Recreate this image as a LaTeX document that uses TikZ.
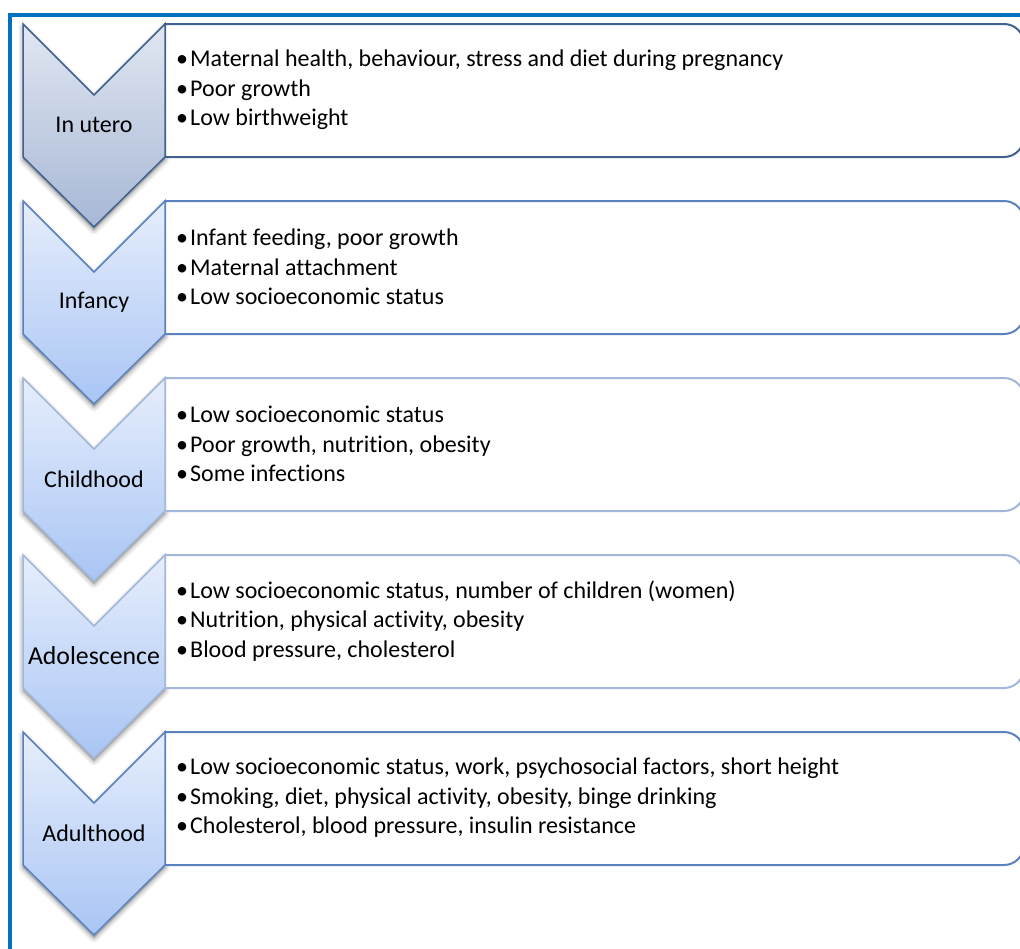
\documentclass[tikz,border=0pt]{standalone}
\usepackage{fontspec}
\setmainfont[Ligatures=NoCommon]{Carlito}
\definecolor{framecol}{HTML}{0070C0}
\definecolor{darkedge}{HTML}{41628F}
\definecolor{midedge}{HTML}{5B82BE}
\definecolor{lightedge}{HTML}{A3B7DA}
\definecolor{greytop}{HTML}{E1E7F2}
\definecolor{greybot}{HTML}{A7B7D5}
\definecolor{bluetop}{HTML}{E6EEFC}
\definecolor{bluebot}{HTML}{A9C5F4}
\tikzset{
  chevshape/.style={line width=1.5pt, line join=miter},
  boxshape/.style={line width=2pt, fill=white},
  stagelabel/.style={font=\fontsize{24}{28}\selectfont, inner sep=0pt},
  bulletlist/.style={font=\fontsize{24}{29.5}\selectfont, align=left, anchor=west, inner sep=0pt},
}
% chevron outline with its top at #1
\newcommand{\chevpath}[1]{(23,#1) -- (94,#1+71) -- (165,#1) -- (165,#1+133) -- (94,#1+203) -- (23,#1+133) -- cycle}
% list box with square left corners and rounded right corners, top at #1
\newcommand{\listbox}[1]{(165,#1) -- (1004,#1) .. controls (1015,#1) and (1024,#1+9) .. (1024,#1+20)
  -- (1024,#1+113) .. controls (1024,#1+124) and (1015,#1+133) .. (1004,#1+133) -- (165,#1+133) -- cycle}
\newcommand{\bul}{\makebox[14pt][l]{•}}
\begin{document}
\begin{tikzpicture}[x=1pt,y=-1pt]
\useasboundingbox (0,0) rectangle (1020,948);
\clip (0,0) rectangle (1020,948);
\fill[white] (0,0) rectangle (1020,948);

% outer frame, only the top and left edges fall inside the page
\draw[framecol, line width=4pt] (10,960) -- (10,15) -- (1040,15);

% stages: top, label, label size, chevron edge, box edge, fill, name
\foreach \t/\lab/\fs/\ce/\be/\ft/\fb/\nm in {
  24/In utero/24/darkedge/darkedge/greytop/greybot/s1,
  201/Infancy/24/midedge/midedge/bluetop/bluebot/s2,
  378/Childhood/24/lightedge/lightedge/bluetop/bluebot/s3,
  555/Adolescence/25.8/lightedge/lightedge/bluetop/bluebot/s4,
  732/Adulthood/24/midedge/midedge/bluetop/bluebot/s5}{
  % soft shadow under the chevron
  \foreach \w/\o in {9/0.05,6/0.06,3/0.08}{
    \filldraw[black, opacity=\o, line width=\w pt, line join=round, yshift=-3pt] \chevpath{\t};
  }
  \draw[boxshape, draw=\be] \listbox{\t};
  \draw[chevshape, draw=\ce, top color=\ft, bottom color=\fb] \chevpath{\t};
  \node[stagelabel, font=\fontsize{\fs}{28}\selectfont] (\nm) at (94,\t+101) {\lab};
}

\node[bulletlist] (l1) at (176,24+66) {\bul Maternal health, behaviour, stress and diet during pregnancy\\\bul Poor growth\\\bul Low birthweight};
\node[bulletlist] (l2) at (176,201+66) {\bul Infant feeding, poor growth\\\bul Maternal attachment\\\bul Low socioeconomic status};
\node[bulletlist] (l3) at (176,378+66) {\bul Low socioeconomic status\\\bul Poor growth, nutrition, obesity\\\bul Some infections};
\node[bulletlist] (l4) at (176,555+66) {\bul Low socioeconomic status, number of children (women)\\\bul Nutrition, physical activity, obesity\\\bul Blood pressure, cholesterol};
\node[bulletlist] (l5) at (176,732+66) {\bul Low socioeconomic status, work, psychosocial factors, short height\\\bul Smoking, diet, physical activity, obesity, binge drinking\\\bul Cholesterol, blood pressure, insulin resistance};
\end{tikzpicture}
\end{document}
